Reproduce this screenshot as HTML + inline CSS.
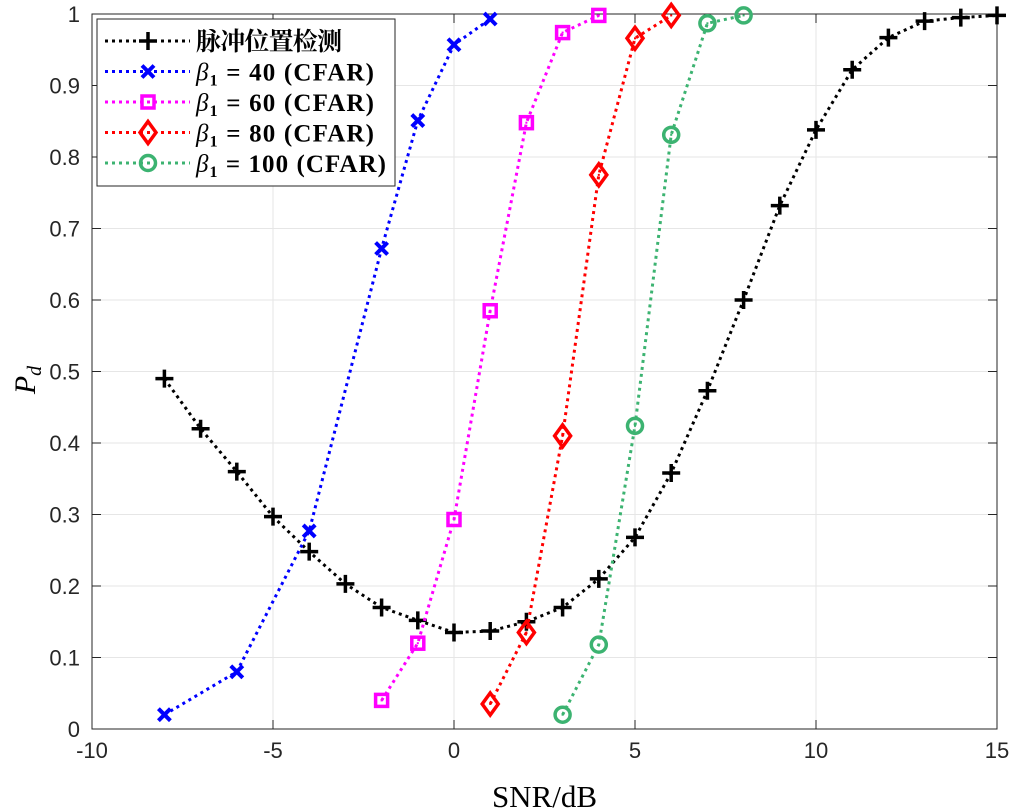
<!DOCTYPE html>
<html><head><meta charset="utf-8"><style>
html,body{margin:0;padding:0;background:#fff;}
svg{display:block;}
</style></head><body>
<svg id="chart" width="1010" height="811" viewBox="0 0 1010 811" xmlns="http://www.w3.org/2000/svg"></svg>
<script>
const xTicks=[-10,-5,0,5,10,15];
const yTicks=[0,0.1,0.2,0.3,0.4,0.5,0.6,0.7,0.8,0.9,1];
const yTickLabels=['0','0.1','0.2','0.3','0.4','0.5','0.6','0.7','0.8','0.9','1'];
const pulseX=[-8,-7,-6,-5,-4,-3,-2,-1,0,1,2,3,4,5,6,7,8,9,10,11,12,13,14,15];
const pulseY=[0.49,0.42,0.36,0.297,0.248,0.203,0.17,0.152,0.135,0.137,0.15,0.17,0.21,0.268,0.358,0.473,0.6,0.732,0.838,0.922,0.967,0.99,0.995,0.998];
const b40X=[-8,-6,-4,-2,-1,0,1];
const b40Y=[0.02,0.08,0.277,0.672,0.851,0.957,0.993];
const b60X=[-2,-1,0,1,2,3,4];
const b60Y=[0.04,0.12,0.293,0.585,0.848,0.974,0.998];
const b80X=[1,2,3,4,5,6];
const b80Y=[0.035,0.135,0.41,0.775,0.966,0.998];
const b100X=[3,4,5,6,7,8];
const b100Y=[0.02,0.118,0.424,0.831,0.987,0.998];

const NS='http://www.w3.org/2000/svg';
const svg=document.getElementById('chart');
const L=92,R=997,T=14,B=729;
const X=v=>L+(v+10)/25*(R-L);
const Y=v=>B-v*(B-T);
function mk(tag,attrs,parent){const e=document.createElementNS(NS,tag);for(const k in attrs)e.setAttribute(k,attrs[k]);(parent||svg).appendChild(e);return e;}

const bg=mk('rect',{x:L,y:T,width:R-L,height:B-T,fill:'#fff'});


const grid=mk('g',{stroke:'#e6e6e6','stroke-width':1});


xTicks.forEach(t=>mk('line',{x1:X(t),x2:X(t),y1:T,y2:B},grid));
yTicks.forEach(t=>mk('line',{x1:L,x2:R,y1:Y(t),y2:Y(t)},grid));

const box=mk('rect',{x:L,y:T,width:R-L,height:B-T,fill:'none',stroke:'#262626','stroke-width':1});


const ticks=mk('g',{stroke:'#262626','stroke-width':1});


xTicks.forEach(t=>{mk('line',{x1:X(t),x2:X(t),y1:B,y2:B-9},ticks);mk('line',{x1:X(t),x2:X(t),y1:T,y2:T+9},ticks);});
yTicks.forEach(t=>{mk('line',{x1:L,x2:L+9,y1:Y(t),y2:Y(t)},ticks);mk('line',{x1:R,x2:R-9,y1:Y(t),y2:Y(t)},ticks);});

const lab=mk('g',{'font-family':'Liberation Sans, sans-serif','font-size':22,fill:'#262626'});
xTicks.forEach(t=>{const e=mk('text',{x:X(t),y:B+29,'text-anchor':'middle'},lab);e.textContent=String(t);

});
yTicks.forEach((t,i)=>{const e=mk('text',{x:L-12,y:Y(t)+8,'text-anchor':'end'},lab);e.textContent=yTickLabels[i];

});

const xt=mk('text',{x:X(2.5),y:807,'text-anchor':'middle','font-family':'Liberation Serif, serif','font-size':31,fill:'#000'});
xt.textContent='SNR/dB';


const yt=mk('text',{transform:'translate(35,380) rotate(-90)','text-anchor':'middle','font-family':'Liberation Serif, serif','font-size':30,'font-style':'italic',fill:'#000'});
yt.innerHTML='P<tspan font-size="20" dy="6">d</tspan>';



function marker(type,cx,cy,color,g){
  if(type==='plus'){mk('path',{d:`M${cx-9} ${cy}H${cx+9}M${cx} ${cy-9}V${cy+9}`,stroke:color,'stroke-width':3.5,fill:'none'},g);}
  else if(type==='x'){mk('path',{d:`M${cx-6} ${cy-6}L${cx+6} ${cy+6}M${cx-6} ${cy+6}L${cx+6} ${cy-6}`,stroke:color,'stroke-width':4,fill:'none'},g);}
  else if(type==='sq'){mk('rect',{x:cx-6,y:cy-6,width:12,height:12,stroke:color,'stroke-width':3.5,fill:'none'},g);mk('rect',{x:cx-1,y:cy-1,width:2,height:2,fill:color},g);}
  else if(type==='dia'){mk('path',{d:`M${cx} ${cy-11}L${cx+8} ${cy}L${cx} ${cy+11}L${cx-8} ${cy}Z`,stroke:color,'stroke-width':3.5,fill:'none'},g);mk('rect',{x:cx-1,y:cy-1,width:2,height:2,fill:color},g);}
  else if(type==='circ'){mk('circle',{cx:cx,cy:cy,r:7.5,stroke:color,'stroke-width':3.5,fill:'none'},g);mk('rect',{x:cx-1,y:cy-1,width:2,height:2,fill:color},g);}
}
const series=[
 {name:'series-pulse',xs:pulseX,ys:pulseY,c:'#000000',m:'plus'},
 {name:'series-beta-40',xs:b40X,ys:b40Y,c:'#0000ff',m:'x'},
 {name:'series-beta-60',xs:b60X,ys:b60Y,c:'#ff00ff',m:'sq'},
 {name:'series-beta-80',xs:b80X,ys:b80Y,c:'#ff0000',m:'dia'},
 {name:'series-beta-100',xs:b100X,ys:b100Y,c:'#3cb371',m:'circ'}
];
series.forEach(s=>{
  const g=mk('g',{});
  
  
  const pts=s.xs.map((x,i)=>X(x)+','+Y(s.ys[i])).join(' ');
  mk('polyline',{points:pts,fill:'none',stroke:s.c,'stroke-width':3,'stroke-dasharray':'3 4'},g);
  s.xs.forEach((x,i)=>marker(s.m,X(x),Y(s.ys[i]),s.c,g));
});

const lg=mk('g',{});


mk('rect',{x:97,y:19,width:298,height:167,fill:'#fff',stroke:'#262626','stroke-width':1},lg);
const labels=['脉冲位置检测','40','60','80','100'];
series.forEach((s,i)=>{
  const cy=41+i*30.5;
  const e=mk('g',{},lg);
  
  
  mk('line',{x1:105,x2:190,y1:cy,y2:cy,stroke:s.c,'stroke-width':3,'stroke-dasharray':'3 4'},e);
  marker(s.m,148,cy,s.c,e);
  const t=mk('text',{x:196,y:cy+9,'font-family':'Liberation Serif, Noto Serif CJK SC, serif','font-size':25,'font-weight':'bold',fill:'#000',textLength:i===0?146:(i===4?190:178)},e);
  if(i===0){t.textContent=labels[0];}
  else{t.innerHTML='<tspan font-style="italic" font-weight="normal">β</tspan><tspan font-size="16" dy="5">1</tspan><tspan dy="-5"> = '+labels[i]+' (CFAR)</tspan>';}
});
</script>
</body></html>
